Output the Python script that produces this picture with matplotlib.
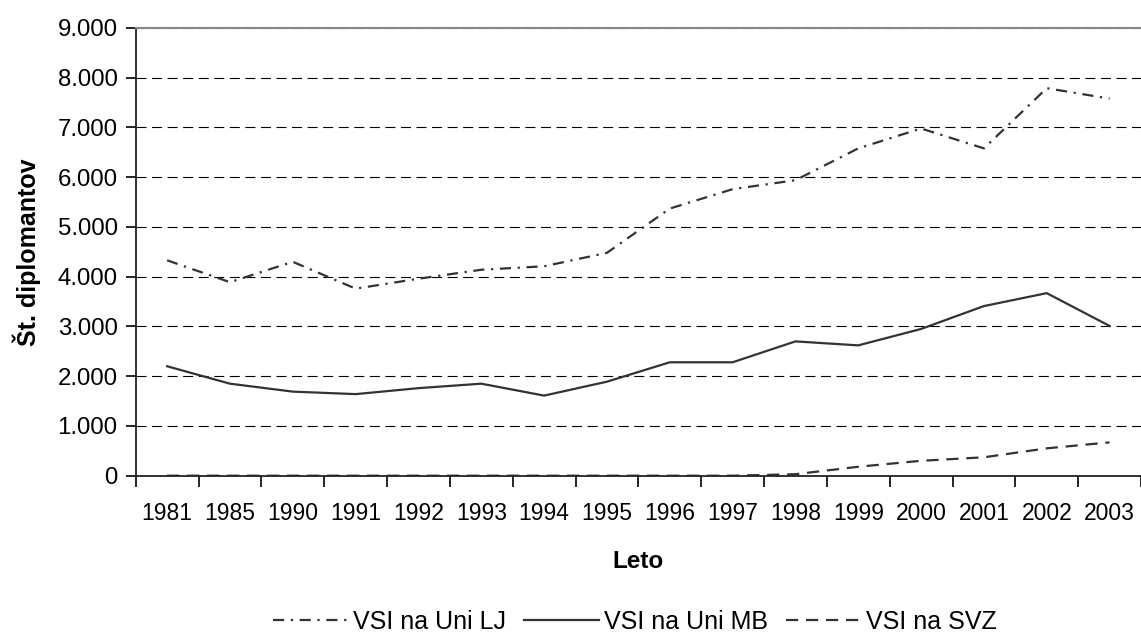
import matplotlib
matplotlib.use("Agg")
import matplotlib.pyplot as plt
from matplotlib.ticker import FuncFormatter, FixedLocator

plt.rcParams['font.family'] = ['Liberation Sans', 'DejaVu Sans']

years = ["1981", "1985", "1990", "1991", "1992", "1993", "1994", "1995",
         "1996", "1997", "1998", "1999", "2000", "2001", "2002", "2003"]
uni_lj = [4330, 3890, 4300, 3760, 3960, 4140, 4210, 4480,
          5370, 5760, 5940, 6580, 6980, 6580, 7790, 7580]
uni_mb = [2200, 1850, 1690, 1640, 1760, 1850, 1610, 1890,
          2280, 2280, 2700, 2620, 2950, 3410, 3670, 3010]
svz = [0, 0, 0, 0, 0, 0, 0, 0,
       0, 0, 30, 180, 300, 370, 550, 670]

labels = ["VSI na Uni LJ", "VSI na Uni MB", "VSI na SVZ"]

fig = plt.figure(figsize=(11.41, 6.35), dpi=100)
ax = fig.add_axes([135.7/1141, 1-475.7/635, (1141-135.7)/1141, (475.7-28)/635])

x = list(range(len(years)))
col = "#333333"
l1, = ax.plot(x, uni_lj, color=col, lw=1.6, linestyle=(0, (5, 3, 1, 3)), label=labels[0])
l2, = ax.plot(x, uni_mb, color=col, lw=1.6, linestyle='-', label=labels[1])
l3, = ax.plot(x, svz, color=col, lw=1.6, linestyle=(0, (5.5, 3.5)), label=labels[2])

ax.set_xlim(-0.5, len(years) - 0.5)
ax.set_ylim(0, 9000)
ax.set_yticks(range(0, 9001, 1000))
ax.yaxis.set_major_formatter(FuncFormatter(lambda v, p: f"{int(v):,}".replace(",", ".")))
ax.yaxis.grid(True, color="black", linestyle=(0, (9, 5)), lw=0.8)
ax.set_axisbelow(True)

ax.xaxis.set_major_locator(FixedLocator([i - 0.5 for i in range(len(years) + 1)]))
ax.xaxis.set_minor_locator(FixedLocator(x))
ax.set_xticklabels([])
ax.set_xticklabels(years, minor=True)
ax.tick_params(axis='x', which='major', length=8, width=1.2, color="black", direction='out')
ax.tick_params(axis='x', which='minor', length=0, pad=19, labelsize=16.5)
ax.tick_params(axis='y', length=7, width=1.2, direction='out', labelsize=17.3, pad=6)

ax.spines['right'].set_visible(False)
ax.spines['top'].set_color("#888888")
ax.spines['top'].set_linewidth(1.5)
ax.spines['left'].set_color("#222222")
ax.spines['left'].set_linewidth(1.3)
ax.spines['bottom'].set_color("#222222")
ax.spines['bottom'].set_linewidth(1.3)

ax.set_ylabel("Št. diplomantov", fontsize=18, fontweight='bold', labelpad=12)
ax.set_xlabel("Leto", fontsize=17.5, fontweight='bold', labelpad=18)

fig.legend(handles=[l1, l2, l3], loc='center', bbox_to_anchor=(0.5566, 0.021),
           ncol=3, frameon=False, fontsize=18, handlelength=3.0,
           handletextpad=0.2, columnspacing=0.72)

fig.savefig("out.png", dpi=100)
